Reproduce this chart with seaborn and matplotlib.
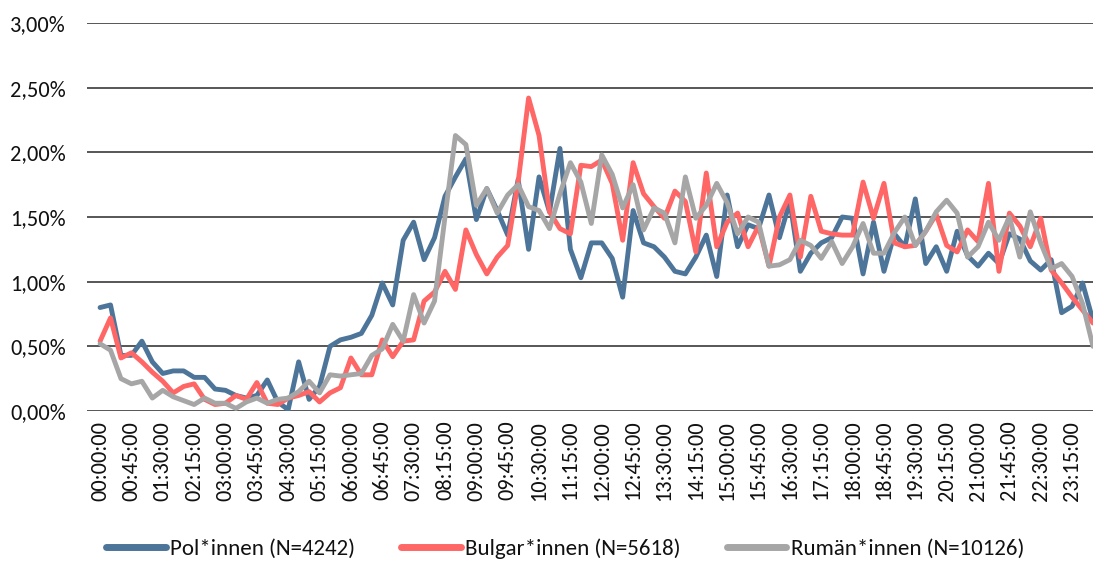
import numpy as np
import pandas as pd
import matplotlib
matplotlib.use("Agg")
import matplotlib.pyplot as plt
from matplotlib.ticker import FuncFormatter
import seaborn as sns

# ---------------------------------------------------------------------
# Data: share of arrivals per 15-minute slot (percent)
# ---------------------------------------------------------------------
times = pd.date_range("2000-01-01 00:00", periods=96, freq="15min").strftime("%H:%M:%S").tolist()

pol = [0.80, 0.82, 0.43, 0.43, 0.54, 0.38, 0.29, 0.31, 0.31, 0.26, 0.26, 0.17,
       0.16, 0.12, 0.10, 0.12, 0.24, 0.07, 0.01, 0.38, 0.09, 0.19, 0.50, 0.55,
       0.57, 0.60, 0.74, 0.99, 0.82, 1.32, 1.46, 1.17, 1.34, 1.66, 1.81, 1.95,
       1.48, 1.72, 1.55, 1.36, 1.79, 1.25, 1.81, 1.54, 2.03, 1.25, 1.03, 1.30,
       1.30, 1.18, 0.88, 1.55, 1.30, 1.27, 1.19, 1.08, 1.06, 1.19, 1.36, 1.04,
       1.67, 1.27, 1.44, 1.41, 1.67, 1.34, 1.62, 1.08, 1.22, 1.30, 1.34, 1.50,
       1.49, 1.06, 1.46, 1.08, 1.37, 1.27, 1.64, 1.14, 1.27, 1.08, 1.39, 1.20,
       1.12, 1.22, 1.14, 1.37, 1.33, 1.16, 1.09, 1.17, 0.76, 0.81, 0.99, 0.70]

bulgar = [0.54, 0.72, 0.41, 0.45, 0.38, 0.30, 0.23, 0.14, 0.19, 0.21, 0.09, 0.05,
          0.06, 0.12, 0.09, 0.22, 0.06, 0.05, 0.10, 0.12, 0.15, 0.07, 0.14, 0.18,
          0.41, 0.28, 0.28, 0.55, 0.42, 0.54, 0.55, 0.85, 0.92, 1.08, 0.94, 1.40,
          1.21, 1.06, 1.19, 1.28, 1.77, 2.42, 2.13, 1.54, 1.41, 1.37, 1.90, 1.89,
          1.94, 1.76, 1.32, 1.92, 1.68, 1.58, 1.49, 1.70, 1.62, 1.23, 1.84, 1.27,
          1.46, 1.53, 1.27, 1.43, 1.12, 1.50, 1.67, 1.19, 1.66, 1.39, 1.37, 1.36,
          1.36, 1.77, 1.49, 1.76, 1.30, 1.27, 1.28, 1.39, 1.52, 1.28, 1.23, 1.40,
          1.31, 1.76, 1.08, 1.53, 1.43, 1.27, 1.49, 1.09, 0.99, 0.88, 0.78, 0.68]

rumaen = [0.52, 0.47, 0.25, 0.21, 0.23, 0.10, 0.16, 0.11, 0.08, 0.05, 0.10, 0.06,
          0.06, 0.02, 0.07, 0.10, 0.06, 0.09, 0.10, 0.15, 0.23, 0.14, 0.28, 0.27,
          0.28, 0.29, 0.43, 0.48, 0.67, 0.54, 0.90, 0.68, 0.85, 1.50, 2.13, 2.06,
          1.59, 1.72, 1.53, 1.67, 1.75, 1.58, 1.55, 1.41, 1.68, 1.92, 1.77, 1.45,
          1.98, 1.83, 1.57, 1.75, 1.40, 1.57, 1.53, 1.30, 1.81, 1.49, 1.59, 1.76,
          1.61, 1.37, 1.50, 1.46, 1.12, 1.13, 1.17, 1.32, 1.28, 1.18, 1.31, 1.14,
          1.27, 1.45, 1.22, 1.22, 1.38, 1.50, 1.28, 1.39, 1.54, 1.63, 1.53, 1.19,
          1.27, 1.46, 1.32, 1.50, 1.19, 1.54, 1.30, 1.10, 1.14, 1.04, 0.83, 0.50]

series_names = ["Pol*innen (N=4242)", "Bulgar*innen (N=5618)", "Rumän*innen (N=10126)"]
colors = ["#4D7599", "#FF6666", "#A6A6A6"]

# ---------------------------------------------------------------------
# Long-form table for seaborn
# ---------------------------------------------------------------------
wide = pd.DataFrame({series_names[0]: pol, series_names[1]: bulgar, series_names[2]: rumaen})
wide["slot"] = np.arange(len(times))
df = wide.melt(id_vars="slot", var_name="group", value_name="share")

sns.set_theme(style="white")
plt.rcParams["font.family"] = ["Carlito", "Lato", "DejaVu Sans"]

fig = plt.figure(figsize=(10.93, 5.66), dpi=100)
ax = fig.add_axes([87 / 1093, 155 / 566, 1006 / 1093, 388 / 566])

sns.lineplot(data=df, x="slot", y="share", hue="group", hue_order=series_names,
             palette=colors, linewidth=3.5, ax=ax, sort=False)

ax.set_xlim(-1.25, 95)
ax.set_ylim(0, 3.0)
ax.set_yticks(np.arange(0, 3.01, 0.5))
ax.yaxis.set_major_formatter(FuncFormatter(lambda v, p: f"{v:.2f}".replace(".", ",") + "%"))
ax.set_xticks(np.arange(0, 96, 3))
ax.set_xticklabels(times[::3], rotation=90)
ax.tick_params(axis="both", length=0, labelsize=16, colors="#111111")
ax.tick_params(axis="y", pad=15)
ax.tick_params(axis="x", pad=7)
ax.set_xlabel("")
ax.set_ylabel("")

for v in np.arange(0, 3.01, 0.5):
    ax.axhline(v, color="#3a3a3a", lw=1.2, zorder=0)
for s in ax.spines.values():
    s.set_visible(False)

handles, labels = ax.get_legend_handles_labels()
ax.get_legend().remove()
leg = fig.legend(handles, labels, loc="center", bbox_to_anchor=(0.517, 0.03), ncol=3,
                 frameon=False, fontsize=16.5, handlelength=2.6, handletextpad=0.2,
                 columnspacing=2.0)
for h in leg.get_lines():
    h.set_linewidth(5)
for t in leg.get_texts():
    t.set_color("#111111")

fig.savefig("out.png", dpi=100)
